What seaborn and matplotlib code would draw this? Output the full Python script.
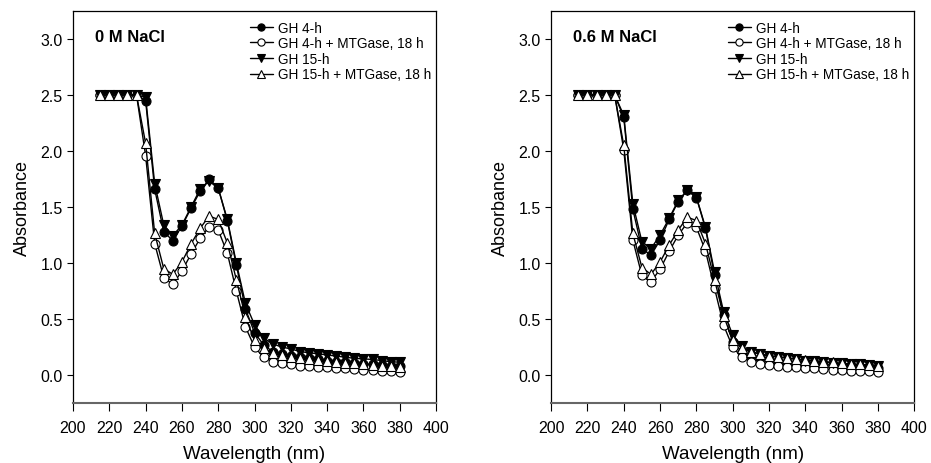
import matplotlib
matplotlib.use("Agg")
import matplotlib.pyplot as plt
import seaborn as sns

# wavelengths (nm)
wavelength = list(range(215, 385, 5))

series_labels = [
    "GH 4-h",
    "GH 4-h + MTGase, 18 h",
    "GH 15-h",
    "GH 15-h + MTGase, 18 h",
]

plateau = [2.5] * 5

# 0 M NaCl
gh4_0m = plateau + [2.45, 1.66, 1.28, 1.20, 1.33, 1.49, 1.64, 1.75, 1.67, 1.38,
                    0.98, 0.59, 0.38, 0.27, 0.21, 0.19, 0.17, 0.16, 0.15, 0.14,
                    0.13, 0.12, 0.115, 0.11, 0.10, 0.095, 0.09, 0.085, 0.08]
gh4_mtg_0m = plateau + [1.96, 1.175, 0.87, 0.81, 0.93, 1.08, 1.22, 1.325, 1.295, 1.09,
                        0.75, 0.43, 0.25, 0.16, 0.12, 0.105, 0.095, 0.085, 0.08, 0.075,
                        0.07, 0.065, 0.06, 0.055, 0.05, 0.045, 0.04, 0.035, 0.03]
gh15_0m = plateau + [2.48, 1.71, 1.34, 1.245, 1.34, 1.50, 1.66, 1.73, 1.67, 1.39,
                     1.0, 0.64, 0.45, 0.33, 0.28, 0.25, 0.235, 0.21, 0.20, 0.19,
                     0.18, 0.17, 0.16, 0.15, 0.145, 0.14, 0.13, 0.12, 0.115]
gh15_mtg_0m = plateau + [2.07, 1.265, 0.95, 0.90, 1.01, 1.17, 1.31, 1.42, 1.39, 1.18,
                         0.85, 0.52, 0.31, 0.24, 0.20, 0.18, 0.165, 0.155, 0.145, 0.135,
                         0.125, 0.12, 0.11, 0.105, 0.10, 0.09, 0.085, 0.08, 0.075]

# 0.6 M NaCl
gh4_06m = plateau + [2.30, 1.48, 1.13, 1.07, 1.205, 1.39, 1.55, 1.65, 1.585, 1.31,
                     0.89, 0.535, 0.30, 0.21, 0.17, 0.15, 0.14, 0.13, 0.12, 0.11,
                     0.105, 0.10, 0.095, 0.09, 0.085, 0.08, 0.075, 0.07, 0.065]
gh4_mtg_06m = plateau + [2.01, 1.205, 0.89, 0.835, 0.945, 1.105, 1.25, 1.36, 1.32, 1.11,
                         0.775, 0.445, 0.25, 0.16, 0.12, 0.10, 0.09, 0.08, 0.075, 0.07,
                         0.065, 0.06, 0.055, 0.05, 0.045, 0.04, 0.035, 0.035, 0.03]
gh15_06m = plateau + [2.32, 1.53, 1.19, 1.13, 1.25, 1.40, 1.56, 1.65, 1.59, 1.32,
                      0.92, 0.565, 0.36, 0.26, 0.21, 0.185, 0.17, 0.16, 0.15, 0.14,
                      0.13, 0.125, 0.12, 0.11, 0.105, 0.10, 0.095, 0.09, 0.085]
gh15_mtg_06m = plateau + [2.05, 1.265, 0.96, 0.90, 1.01, 1.16, 1.295, 1.41, 1.38, 1.175,
                          0.85, 0.53, 0.31, 0.24, 0.21, 0.19, 0.175, 0.165, 0.155, 0.145,
                          0.135, 0.13, 0.12, 0.115, 0.105, 0.10, 0.095, 0.09, 0.085]

panels = [
    ("0 M NaCl", [gh4_0m, gh4_mtg_0m, gh15_0m, gh15_mtg_0m]),
    ("0.6 M NaCl", [gh4_06m, gh4_mtg_06m, gh15_06m, gh15_mtg_06m]),
]

marker_styles = [("o", "black"), ("o", "white"), ("v", "black"), ("^", "white")]

sns.set_style("ticks")
plt.rcParams["font.family"] = ["Liberation Sans", "DejaVu Sans"]
plt.rcParams["text.color"] = "black"
plt.rcParams["axes.labelcolor"] = "black"
plt.rcParams["xtick.color"] = "black"
plt.rcParams["ytick.color"] = "black"

fig = plt.figure(figsize=(9.31, 4.64), dpi=100)
axes = [fig.add_axes([0.0784, 0.129, 0.390, 0.845]),
        fig.add_axes([0.592, 0.129, 0.390, 0.845])]

for ax, (title, values) in zip(axes, panels):
    for label, ys, (mk, face) in zip(series_labels, values, marker_styles):
        sns.lineplot(x=wavelength, y=ys, ax=ax, color="black", linewidth=1.0,
                     marker=mk, markersize=6.5, markerfacecolor=face,
                     markeredgecolor="black", markeredgewidth=0.8, label=label)
    ax.set_xlim(200, 400)
    ax.set_ylim(-0.25, 3.25)
    ax.set_xticks(range(200, 401, 20))
    ax.set_yticks([0.0, 0.5, 1.0, 1.5, 2.0, 2.5, 3.0])
    ax.set_yticklabels([f"{v:.1f}" for v in ax.get_yticks()])
    ax.tick_params(axis="both", labelsize=11.5, direction="out", length=4,
                   width=0.8, color="black", labelcolor="black")
    ax.tick_params(axis="x", length=6, pad=6)
    for side in ["top", "right", "left", "bottom"]:
        ax.spines[side].set_visible(True)
        ax.spines[side].set_color("black")
        ax.spines[side].set_linewidth(0.9)
    ax.spines["bottom"].set_color("#666666")
    ax.spines["bottom"].set_linewidth(1.5)
    ax.set_xlabel("Wavelength (nm)", fontsize=13.5, labelpad=7)
    ax.set_ylabel("Absorbance", fontsize=13, labelpad=7)
    ax.text(0.06, 0.936, title, transform=ax.transAxes, fontsize=12,
            fontweight="bold", va="center", ha="left")
    ax.legend(loc="upper right", bbox_to_anchor=(1.012, 1.0), frameon=False,
              fontsize=9.8, handlelength=1.7, handletextpad=0.35,
              labelspacing=0.12, borderaxespad=0.3, markerscale=0.8)

fig.savefig("out.png", dpi=100)
